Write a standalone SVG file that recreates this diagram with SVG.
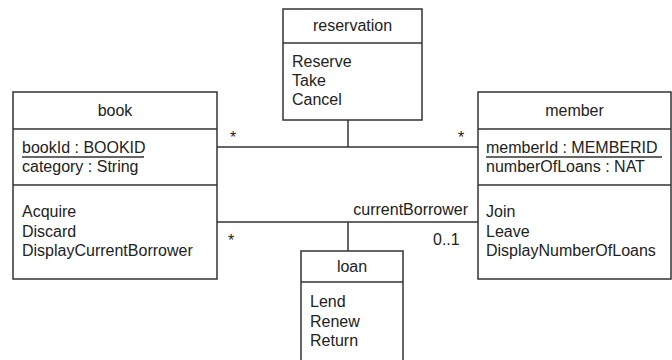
<svg xmlns="http://www.w3.org/2000/svg" width="672" height="360" viewBox="0 0 672 360">
<style>
.box{fill:#fff;stroke:#333;stroke-width:1.5}
.ln{stroke:#333;stroke-width:1.5;fill:none}
text{font-family:"Liberation Sans",Arial,sans-serif;font-size:16px;fill:#222}
.c{text-anchor:middle}
</style>
<rect width="672" height="360" fill="#fff"/>
<g id="connectors">
<line class="ln" x1="217" y1="147" x2="478" y2="147"/>
<line class="ln" x1="348" y1="120" x2="348" y2="147"/>
<line class="ln" x1="217" y1="222" x2="478" y2="222"/>
<line class="ln" x1="348" y1="222" x2="348" y2="251"/>
<text x="233" y="143" class="c">*</text>
<text x="461" y="143" class="c">*</text>
<text x="231" y="246" class="c">*</text>
<text x="468" y="215" text-anchor="end">currentBorrower</text>
<text x="433" y="245">0..1</text>
</g>
<g id="reservation">
<rect class="box" x="283" y="9" width="139" height="111"/>
<line class="ln" x1="283" y1="43" x2="422" y2="43"/>
<text x="352.5" y="31" class="c">reservation</text>
<text x="292" y="67">Reserve</text>
<text x="292" y="86">Take</text>
<text x="292" y="105">Cancel</text>
</g>
<g id="book">
<rect class="box" x="13" y="92" width="204" height="187"/>
<line class="ln" x1="13" y1="129" x2="217" y2="129"/>
<line class="ln" x1="13" y1="185" x2="217" y2="185"/>
<text x="115" y="116" class="c">book</text>
<text x="22" y="153">bookId : BOOKID</text>
<line class="ln" x1="22" y1="157" x2="144" y2="157"/>
<text x="22" y="172">category : String</text>
<text x="22" y="217">Acquire</text>
<text x="22" y="237">Discard</text>
<text x="22" y="256">DisplayCurrentBorrower</text>
</g>
<g id="member">
<rect class="box" x="478" y="92" width="193" height="187"/>
<line class="ln" x1="478" y1="129" x2="671" y2="129"/>
<line class="ln" x1="478" y1="185" x2="671" y2="185"/>
<text x="574.5" y="116" class="c">member</text>
<text x="486" y="153">memberId : MEMBERID</text>
<line class="ln" x1="486" y1="157" x2="662" y2="157"/>
<text x="486" y="172">numberOfLoans : NAT</text>
<text x="486" y="217">Join</text>
<text x="486" y="237">Leave</text>
<text x="486" y="256">DisplayNumberOfLoans</text>
</g>
<g id="loan">
<rect class="box" x="301" y="251" width="102" height="112"/>
<line class="ln" x1="301" y1="282" x2="403" y2="282"/>
<text x="352" y="272" class="c">loan</text>
<text x="310" y="307">Lend</text>
<text x="310" y="327">Renew</text>
<text x="310" y="346">Return</text>
</g>
</svg>
